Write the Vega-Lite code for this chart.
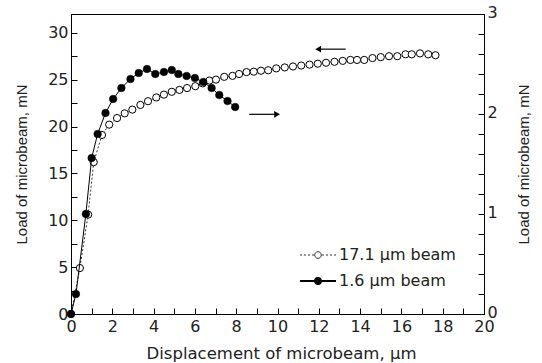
{
  "$schema": "https://vega.github.io/schema/vega-lite/v6.json",
  "width": 413,
  "height": 300,
  "autosize": {"type": "none"},
  "padding": {"left": 71, "top": 14, "right": 58, "bottom": 49},
  "background": "white",
  "config": {
    "font": "DejaVu Sans",
    "view": {"stroke": "black", "strokeWidth": 1},
    "axis": {
      "grid": false,
      "domainColor": "black",
      "tickColor": "black",
      "tickSize": -6,
      "labelPadding": 9,
      "labelFont": "DejaVu Sans",
      "titleFont": "Liberation Sans",
      "labelFontSize": 16,
      "titleFontSize": 15,
      "titleFontWeight": "normal",
      "labelColor": "#222",
      "titleColor": "#222",
      "labelFlush": false,
      "labelOverlap": false,
      "labelBound": false
    }
  },
  "datasets": {
    "beams": [
      {"beam": "17.1 μm beam", "disp": 0, "load": 0},
      {"beam": "17.1 μm beam", "disp": 0.43, "load": 4.9},
      {"beam": "17.1 μm beam", "disp": 0.83, "load": 10.6},
      {"beam": "17.1 μm beam", "disp": 1.1, "load": 16.2},
      {"beam": "17.1 μm beam", "disp": 1.5, "load": 19.1},
      {"beam": "17.1 μm beam", "disp": 1.85, "load": 20.2},
      {"beam": "17.1 μm beam", "disp": 2.23, "load": 20.9},
      {"beam": "17.1 μm beam", "disp": 2.6, "load": 21.4},
      {"beam": "17.1 μm beam", "disp": 2.97, "load": 21.8},
      {"beam": "17.1 μm beam", "disp": 3.36, "load": 22.3},
      {"beam": "17.1 μm beam", "disp": 3.73, "load": 22.7},
      {"beam": "17.1 μm beam", "disp": 4.13, "load": 23.1},
      {"beam": "17.1 μm beam", "disp": 4.5, "load": 23.4},
      {"beam": "17.1 μm beam", "disp": 4.88, "load": 23.7},
      {"beam": "17.1 μm beam", "disp": 5.25, "load": 23.9},
      {"beam": "17.1 μm beam", "disp": 5.62, "load": 24.1},
      {"beam": "17.1 μm beam", "disp": 6.02, "load": 24.3},
      {"beam": "17.1 μm beam", "disp": 6.38, "load": 24.6},
      {"beam": "17.1 μm beam", "disp": 6.7, "load": 24.9},
      {"beam": "17.1 μm beam", "disp": 7.02, "load": 25.0},
      {"beam": "17.1 μm beam", "disp": 7.42, "load": 25.3},
      {"beam": "17.1 μm beam", "disp": 7.82, "load": 25.4},
      {"beam": "17.1 μm beam", "disp": 8.14, "load": 25.6},
      {"beam": "17.1 μm beam", "disp": 8.5, "load": 25.8},
      {"beam": "17.1 μm beam", "disp": 8.85, "load": 25.85},
      {"beam": "17.1 μm beam", "disp": 9.2, "load": 25.95},
      {"beam": "17.1 μm beam", "disp": 9.55, "load": 26.0},
      {"beam": "17.1 μm beam", "disp": 9.94, "load": 26.2},
      {"beam": "17.1 μm beam", "disp": 10.35, "load": 26.3},
      {"beam": "17.1 μm beam", "disp": 10.75, "load": 26.4},
      {"beam": "17.1 μm beam", "disp": 11.15, "load": 26.5},
      {"beam": "17.1 μm beam", "disp": 11.55, "load": 26.6},
      {"beam": "17.1 μm beam", "disp": 11.95, "load": 26.7},
      {"beam": "17.1 μm beam", "disp": 12.35, "load": 26.8},
      {"beam": "17.1 μm beam", "disp": 12.76, "load": 26.9},
      {"beam": "17.1 μm beam", "disp": 13.16, "load": 27.0},
      {"beam": "17.1 μm beam", "disp": 13.53, "load": 27.1},
      {"beam": "17.1 μm beam", "disp": 13.85, "load": 27.1},
      {"beam": "17.1 μm beam", "disp": 14.2, "load": 27.1},
      {"beam": "17.1 μm beam", "disp": 14.6, "load": 27.3},
      {"beam": "17.1 μm beam", "disp": 15.0, "load": 27.4},
      {"beam": "17.1 μm beam", "disp": 15.4, "load": 27.5},
      {"beam": "17.1 μm beam", "disp": 15.8, "load": 27.5},
      {"beam": "17.1 μm beam", "disp": 16.2, "load": 27.7},
      {"beam": "17.1 μm beam", "disp": 16.5, "load": 27.7},
      {"beam": "17.1 μm beam", "disp": 16.9, "load": 27.8},
      {"beam": "17.1 μm beam", "disp": 17.3, "load": 27.7},
      {"beam": "17.1 μm beam", "disp": 17.65, "load": 27.6},
      {"beam": "1.6 μm beam", "disp": 0, "load": 0},
      {"beam": "1.6 μm beam", "disp": 0.24, "load": 0.2},
      {"beam": "1.6 μm beam", "disp": 0.72, "load": 1.0},
      {"beam": "1.6 μm beam", "disp": 1.0, "load": 1.56},
      {"beam": "1.6 μm beam", "disp": 1.29, "load": 1.8},
      {"beam": "1.6 μm beam", "disp": 1.67, "load": 2.01},
      {"beam": "1.6 μm beam", "disp": 2.04, "load": 2.15},
      {"beam": "1.6 μm beam", "disp": 2.44, "load": 2.26},
      {"beam": "1.6 μm beam", "disp": 2.88, "load": 2.35},
      {"beam": "1.6 μm beam", "disp": 3.28, "load": 2.41},
      {"beam": "1.6 μm beam", "disp": 3.68, "load": 2.45},
      {"beam": "1.6 μm beam", "disp": 4.08, "load": 2.4},
      {"beam": "1.6 μm beam", "disp": 4.5, "load": 2.42},
      {"beam": "1.6 μm beam", "disp": 4.88, "load": 2.44},
      {"beam": "1.6 μm beam", "disp": 5.2, "load": 2.4},
      {"beam": "1.6 μm beam", "disp": 5.6, "load": 2.38},
      {"beam": "1.6 μm beam", "disp": 6.0, "load": 2.36},
      {"beam": "1.6 μm beam", "disp": 6.41, "load": 2.32},
      {"beam": "1.6 μm beam", "disp": 6.81, "load": 2.26},
      {"beam": "1.6 μm beam", "disp": 7.18, "load": 2.19},
      {"beam": "1.6 μm beam", "disp": 7.58, "load": 2.13},
      {"beam": "1.6 μm beam", "disp": 7.95, "load": 2.07}
    ],
    "arrows": [
      {"dir": "left", "start": 11.97, "end": 13.3, "head": 11.97, "level": 28.25},
      {"dir": "right", "start": 8.63, "end": 9.98, "head": 9.98, "level": 21.3}
    ]
  },
  "layer": [
    {
      "layer": [
        {
          "data": {"name": "beams"},
          "transform": [{"filter": "datum.beam === '17.1 μm beam'"}],
          "mark": {"type": "line", "color": "black", "strokeWidth": 0.8, "strokeDash": [2, 2]},
          "encoding": {
            "x": {"field": "disp", "type": "quantitative", "scale": {"domain": [0, 20], "nice": false},
              "axis": {"values": [0,1,2,3,4,5,6,7,8,9,10,11,12,13,14,15,16,17,18,19,20], "tickCount": 100, "labelExpr": "datum.value % 2 === 0 ? format(datum.value, 'd') : ''", "labelOverlap": false, "labelPadding": 10, "title": "Displacement of microbeam, μm", "titleFont": "DejaVu Sans", "titleFontSize": 16.5, "titleX": 210, "titleY": 44, "titleBaseline": "alphabetic"}},
            "y": {"field": "load", "type": "quantitative", "scale": {"domain": [0, 32], "nice": false, "zero": true},
              "axis": {"orient": "left", "values": [0,2.5,5,7.5,10,12.5,15,17.5,20,22.5,25,27.5,30], "tickCount": 100, "labelExpr": "datum.value % 5 === 0 ? format(datum.value, 'd') : ''", "labelOverlap": false, "title": "Load of microbeam, mN", "titleX": -42, "titleY": 150, "titleBaseline": "bottom", "titleAngle": 270}}
          }
        },
        {
          "data": {"name": "beams"},
          "transform": [{"filter": "datum.beam === '17.1 μm beam'"}],
          "mark": {"type": "point", "shape": "circle", "filled": false, "stroke": "black", "strokeWidth": 1, "size": 52, "opacity": 1},
          "encoding": {
            "x": {"field": "disp", "type": "quantitative"},
            "y": {"field": "load", "type": "quantitative"},
            "fill": {"field": "beam", "type": "nominal", "scale": {"domain": ["17.1 μm beam", "1.6 μm beam"], "range": ["white", "black"]},
              "legend": {"orient": "none", "legendX": 239, "legendY": 233, "title": null, "symbolSize": 400, "labelOffset": 13, "rowPadding": 10, "labelFontSize": 16, "labelFont": "DejaVu Sans", "labelColor": "#222", "symbolStrokeColor": "black", "symbolStrokeWidth": 1, "symbolOpacity": 1,
                "encode": {"symbols": {"update": {
                  "shape": {"signal": "datum.value === '17.1 μm beam' ? 'M-1.8,0H-1.6M-1.4,0H-1.2M-1,0H-0.8M-0.6,0H-0.4M0.4,0H0.6M0.8,0H1M1.2,0H1.4M1.6,0H1.8M0.33,0A0.33,0.33 0 1,1 -0.33,0A0.33,0.33 0 1,1 0.33,0Z' : 'M-1.8,0H-0.3M0.3,0H1.8M0.3,0A0.3,0.3 0 1,1 -0.3,0A0.3,0.3 0 1,1 0.3,0Z'"},
                  "strokeWidth": {"signal": "datum.value === '17.1 μm beam' ? 0.8 : 1.8"}
                }}}}}
          }
        },
        {
          "data": {"name": "arrows"},
          "mark": {"type": "rule", "color": "black", "strokeWidth": 1.2},
          "encoding": {
            "x": {"field": "start", "type": "quantitative"},
            "x2": {"field": "end"},
            "y": {"field": "level", "type": "quantitative"}
          }
        },
        {
          "data": {"name": "arrows"},
          "mark": {"type": "point", "filled": true, "color": "black", "size": 45, "opacity": 1},
          "encoding": {
            "x": {"field": "head", "type": "quantitative"},
            "y": {"field": "level", "type": "quantitative"},
            "shape": {"field": "dir", "type": "nominal", "scale": {"domain": ["left", "right"], "range": ["triangle-left", "triangle-right"]}, "legend": null}
          }
        }
      ]
    },
    {
      "layer": [
        {
          "data": {"name": "beams"},
          "transform": [{"filter": "datum.beam === '1.6 μm beam'"}],
          "mark": {"type": "line", "color": "black", "strokeWidth": 1},
          "encoding": {
            "x": {"field": "disp", "type": "quantitative"},
            "y": {"field": "load", "type": "quantitative", "scale": {"domain": [0, 3], "nice": false, "zero": true},
              "axis": {"orient": "right", "values": [0,0.2,0.4,0.6,0.8,1,1.2,1.4,1.6,1.8,2,2.2,2.4,2.6,2.8,3], "tickCount": 100, "labelExpr": "abs(datum.value - round(datum.value)) < 0.001 ? format(datum.value, 'd') : ''", "labelOverlap": false, "labelOffset": -2, "title": "Load of microbeam, mN", "titleX": 47, "titleY": 150, "titleBaseline": "bottom", "titleAngle": 270}}
          }
        },
        {
          "data": {"name": "beams"},
          "transform": [{"filter": "datum.beam === '1.6 μm beam'"}],
          "mark": {"type": "point", "shape": "circle", "filled": true, "stroke": "black", "strokeWidth": 0.5, "size": 58, "opacity": 1},
          "encoding": {
            "x": {"field": "disp", "type": "quantitative"},
            "y": {"field": "load", "type": "quantitative"},
            "fill": {"field": "beam", "type": "nominal"}
          }
        }
      ]
    }
  ],
  "resolve": {"scale": {"y": "independent"}}
}
